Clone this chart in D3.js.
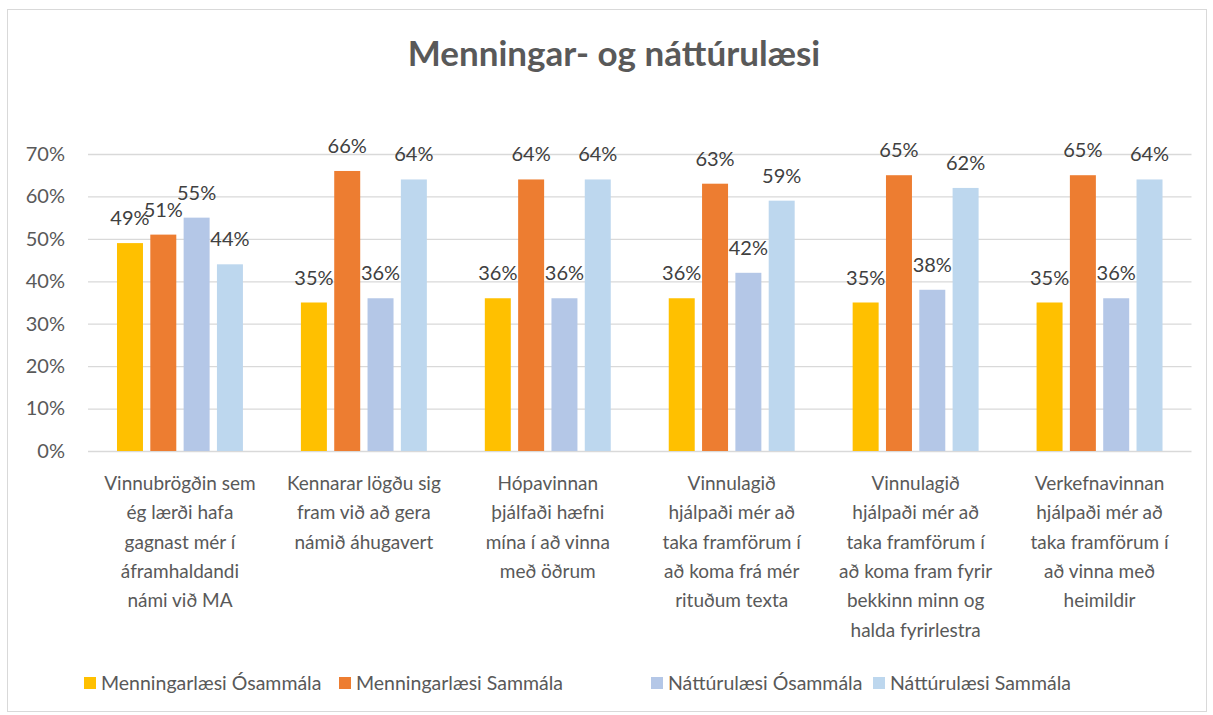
<!DOCTYPE html>
<html><head><meta charset="utf-8">
<script src="https://cdn.jsdelivr.net/npm/d3@7"></script>
<style>body{margin:0;background:#fff}svg{display:block}text{font-family:Lato,"Open Sans",sans-serif}</style>
</head><body><svg id="c" width="1213" height="715"></svg>
<script>
const title = "Menningar- og náttúrulæsi";
const categories = [
  "Vinnubrögðin sem\nég lærði hafa\ngagnast mér í\náframhaldandi\nnámi við MA",
  "Kennarar lögðu sig\nfram við að gera\nnámið áhugavert",
  "Hópavinnan\nþjálfaði hæfni\nmína í að vinna\nmeð öðrum",
  "Vinnulagið\nhjálpaði mér að\ntaka framförum í\nað koma frá mér\nrituðum texta",
  "Vinnulagið\nhjálpaði mér að\ntaka framförum í\nað koma fram fyrir\nbekkinn minn og\nhalda fyrirlestra",
  "Verkefnavinnan\nhjálpaði mér að\ntaka framförum í\nað vinna með\nheimildir"
];
const seriesNames = ["Menningarlæsi Ósammála","Menningarlæsi Sammála","Náttúrulæsi Ósammála","Náttúrulæsi Sammála"];
const menningOsammala = [49,35,36,36,35,35];
const menningSammala  = [51,66,64,63,65,65];
const natturOsammala  = [55,36,36,42,38,36];
const natturSammala   = [44,64,64,59,62,64];
const colors = ["#FFC000","#ED7D31","#B4C7E7","#BDD7EE"];
const yTicks = [0,10,20,30,40,50,60,70];

const series = [menningOsammala, menningSammala, natturOsammala, natturSammala];
const svg = d3.select("#c");
svg.append("rect").attr("x",7.5).attr("y",9.5).attr("width",1199).attr("height",702)
  .attr("fill","#fff").attr("stroke","#d9d9d9");

svg.append("text").attr("x",614).attr("y",66).attr("text-anchor","middle")
  .attr("font-size",35).attr("font-weight","bold").attr("fill","#595959").text(title);

const x0 = d3.scaleBand().domain(d3.range(categories.length)).range([88,1191.5]);
const x1 = d3.scaleBand().domain(d3.range(4)).range([0,x0.bandwidth()]).paddingInner(0.22).paddingOuter(0.87);
const y = d3.scaleLinear().domain([0,70]).range([451,154]);

const g = svg.append("g");
const yAxis = d3.axisLeft(y).tickValues(yTicks).tickFormat(d=>d+"%").tickSize(-(1191.5-88)).tickPadding(23);
const ya = g.append("g").attr("transform","translate(88,0)").call(yAxis);
ya.select(".domain").remove();
ya.selectAll(".tick line").attr("stroke","#d9d9d9").attr("stroke-width",1.3);
ya.selectAll(".tick text").attr("fill","#595959").attr("font-size",20).attr("font-family","Lato");

const groups = g.selectAll("g.grp").data(categories).join("g").attr("class","grp")
  .attr("transform",(d,i)=>`translate(${x0(i)},0)`);
groups.each(function(c,i){
  const gg = d3.select(this);
  series.forEach((s,k)=>{
    gg.append("rect").attr("x",x1(k)).attr("width",x1.bandwidth())
      .attr("y",y(s[i])).attr("height",y(0)-y(s[i])).attr("fill",colors[k]);
  });
  series.forEach((s,k)=>{
    gg.append("text").attr("x",x1(k)+x1.bandwidth()/2).attr("y",y(s[i])-18)
      .attr("text-anchor","middle").attr("font-size",20).attr("fill","#404040").text(s[i]+"%");
  });
  const t = gg.append("text").attr("text-anchor","middle").attr("font-size",19).attr("fill","#595959");
  c.split("\n").forEach((ln,j)=>{
    t.append("tspan").attr("x",x0.bandwidth()/2).attr("y",490+j*29.3).text(ln);
  });
});

// legend
const legX = [84,339,651,873];
const lg = svg.append("g");
seriesNames.forEach((n,k)=>{
  lg.append("rect").attr("x",legX[k]).attr("y",677).attr("width",12).attr("height",12).attr("fill",colors[k]);
  lg.append("text").attr("x",legX[k]+17).attr("y",690).attr("font-size",19.5).attr("fill","#595959").text(n);
});
</script></body></html>
